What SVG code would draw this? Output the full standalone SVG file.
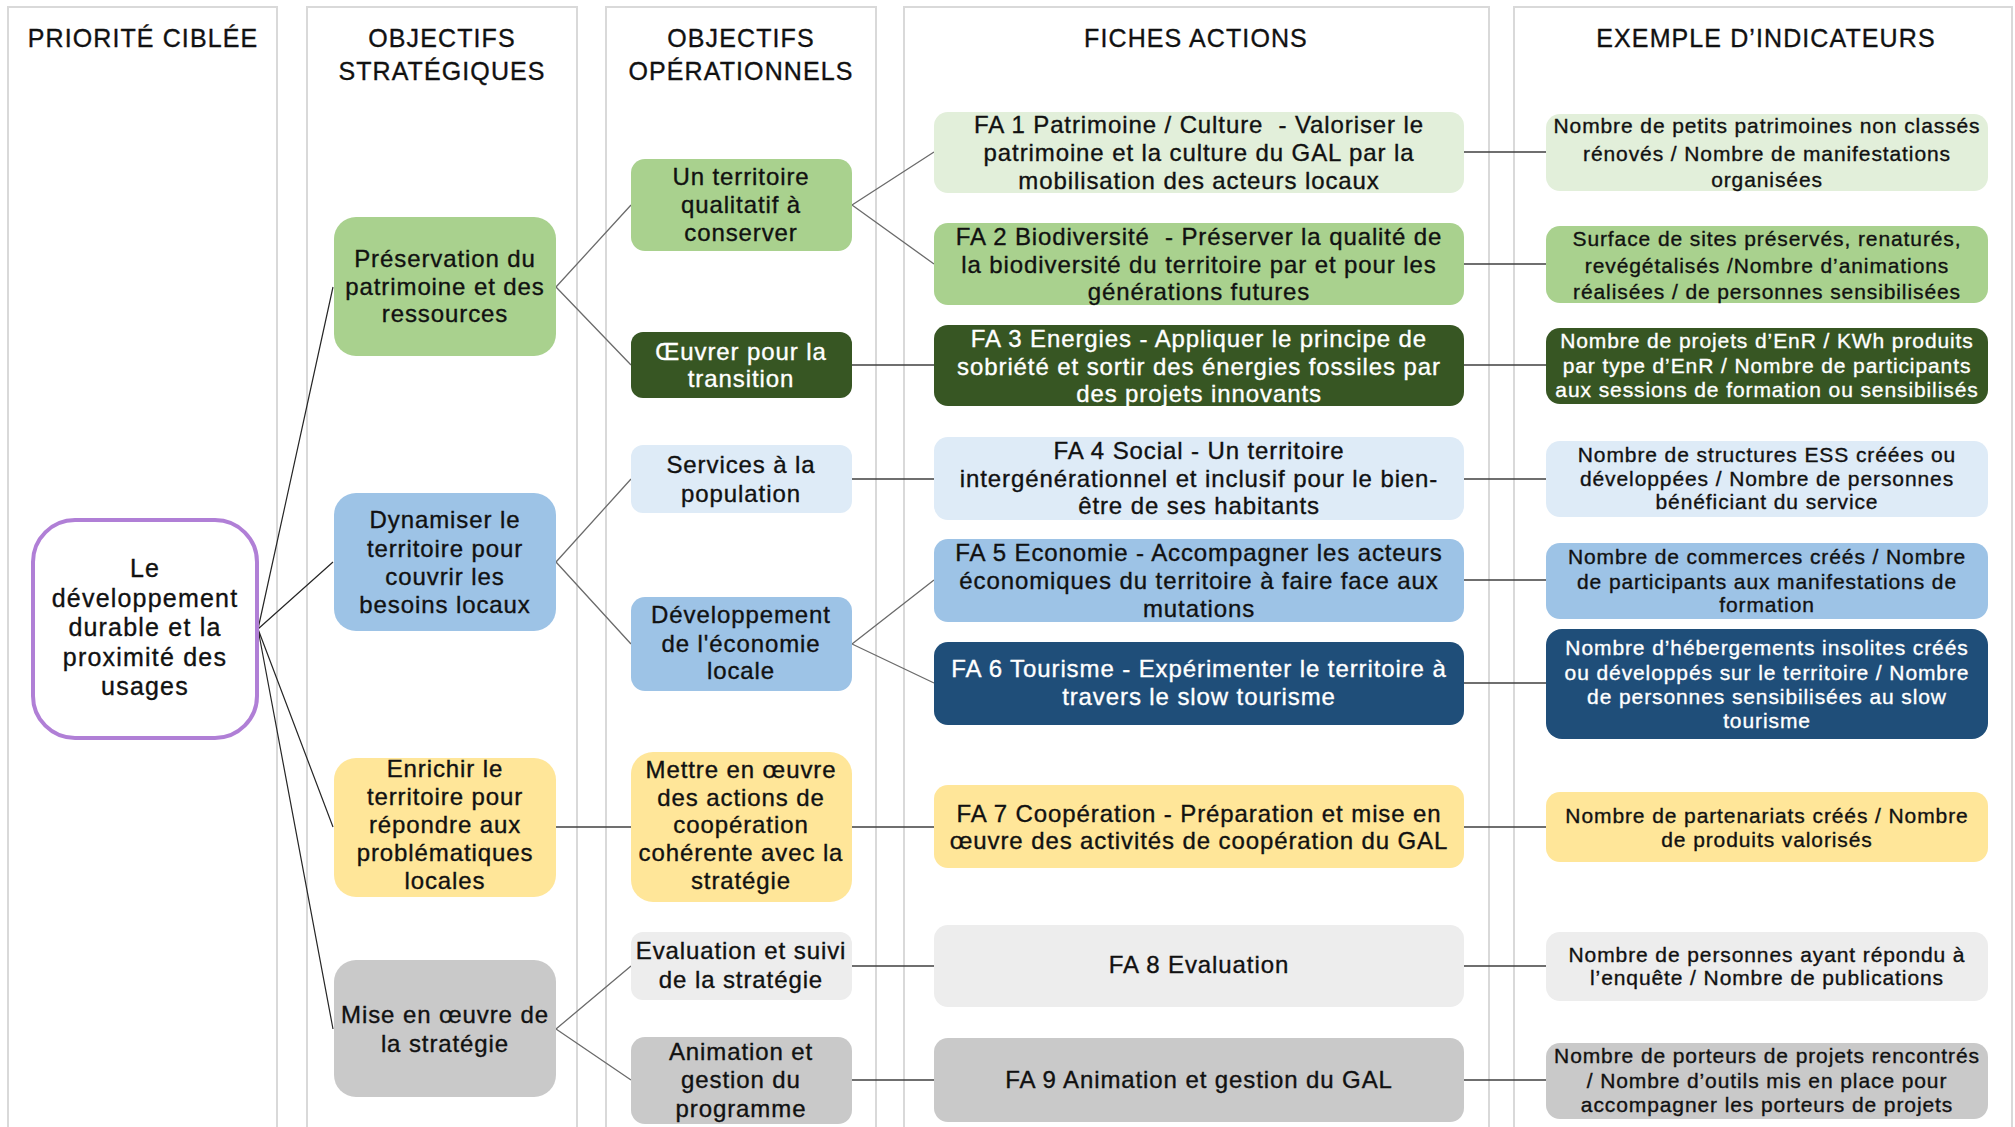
<svg xmlns="http://www.w3.org/2000/svg" width="2015" height="1127" viewBox="0 0 2015 1127">
<style>
text{font-family:"Liberation Sans",Arial,sans-serif;fill:#111;stroke:#111;stroke-width:0.35px;text-anchor:middle;}
.hd{font-size:25px;letter-spacing:1.1px;}
.rt{font-size:25px;letter-spacing:1.2px;}
.st{font-size:24px;letter-spacing:0.9px;}
.fa{font-size:24px;letter-spacing:0.9px;}
.ind{font-size:21px;letter-spacing:0.9px;}
.w{fill:#fff;stroke:#fff;}
.panel{fill:#fff;stroke:#d9d9d9;stroke-width:2;}
.lg{fill:#e2efda;} .mg{fill:#a9d18e;} .dg{fill:#375623;}
.lb{fill:#deebf7;} .mb{fill:#9dc3e6;} .db{fill:#1f4e79;}
.ye{fill:#ffe699;} .gl{fill:#ededed;} .gm{fill:#c9c9c9;}
.c1{stroke:#262626;stroke-width:1.2;fill:none;}
.c2{stroke:#6b6b6b;stroke-width:1.3;fill:none;}
.c3{stroke:#404040;stroke-width:1.6;fill:none;}
</style>
<rect width="2015" height="1127" fill="#fff"/>
<g id="panels">
<rect class="panel" x="8" y="7" width="269" height="1140"/>
<rect class="panel" x="307" y="7" width="270" height="1140"/>
<rect class="panel" x="606" y="7" width="270" height="1140"/>
<rect class="panel" x="904" y="7" width="585" height="1140"/>
<rect class="panel" x="1514" y="7" width="498" height="1140"/>
<text class="hd" x="143" y="47">PRIORITÉ CIBLÉE</text>
<text class="hd" x="442" y="47">OBJECTIFS</text>
<text class="hd" x="442" y="80">STRATÉGIQUES</text>
<text class="hd" x="741" y="47">OBJECTIFS</text>
<text class="hd" x="741" y="80">OPÉRATIONNELS</text>
<text class="hd" x="1196" y="47">FICHES ACTIONS</text>
<text class="hd" x="1766" y="47">EXEMPLE D’INDICATEURS</text>
</g>
<g id="connectors">
<path class="c1" d="M258 629L333 287M258 629L333 562M258 629L333 827M258 629L333 1029"/>
<path class="c2" d="M556 287L631 205M556 287L631 365M556 562L631 479M556 562L631 644M556 1029L631 966M556 1029L631 1080"/>
<path class="c3" d="M556 827H631"/>
<path class="c2" d="M852 205L934 152M852 205L934 264M852 644L934 580M852 644L934 683"/>
<path class="c3" d="M852 365H934M852 479H934M852 827H934M852 966H934M852 1080H934"/>
<path class="c3" d="M1464 152H1546M1464 264H1546M1464 365H1546M1464 479H1546M1464 580H1546M1464 683H1546M1464 827H1546M1464 966H1546M1464 1080H1546"/>
</g>
<g id="root">
<rect x="33" y="520" width="224" height="218" rx="42" fill="#fff" stroke="#b07fd6" stroke-width="4"/>
<text class="rt" x="145" y="577">Le</text>
<text class="rt" x="145" y="607">développement</text>
<text class="rt" x="145" y="636">durable et la</text>
<text class="rt" x="145" y="666">proximité des</text>
<text class="rt" x="145" y="695">usages</text>
</g>
<g id="os1">
<rect class="mg" x="334" y="217" width="222" height="139" rx="22"/>
<text class="st" x="445" y="267">Préservation du</text>
<text class="st" x="445" y="295">patrimoine et des</text>
<text class="st" x="445" y="322">ressources</text>
</g>
<g id="os2">
<rect class="mb" x="334" y="493" width="222" height="138" rx="22"/>
<text class="st" x="445" y="528">Dynamiser le</text>
<text class="st" x="445" y="557">territoire pour</text>
<text class="st" x="445" y="585">couvrir les</text>
<text class="st" x="445" y="613">besoins locaux</text>
</g>
<g id="os3">
<rect class="ye" x="334" y="758" width="222" height="139" rx="22"/>
<text class="st" x="445" y="777">Enrichir le</text>
<text class="st" x="445" y="805">territoire pour</text>
<text class="st" x="445" y="833">répondre aux</text>
<text class="st" x="445" y="861">problématiques</text>
<text class="st" x="445" y="889">locales</text>
</g>
<g id="os4">
<rect class="gm" x="334" y="960" width="222" height="137" rx="22"/>
<text class="st" x="445" y="1023">Mise en œuvre de</text>
<text class="st" x="445" y="1052">la stratégie</text>
</g>
<g id="oo1">
<rect class="mg" x="631" y="159" width="221" height="92" rx="14"/>
<text class="st" x="741" y="185">Un territoire</text>
<text class="st" x="741" y="213">qualitatif à</text>
<text class="st" x="741" y="241">conserver</text>
</g>
<g id="oo2">
<rect class="dg" x="631" y="332" width="221" height="66" rx="12"/>
<text class="st w" x="741" y="360">Œuvrer pour la</text>
<text class="st w" x="741" y="387">transition</text>
</g>
<g id="oo3">
<rect class="lb" x="631" y="445" width="221" height="68" rx="12"/>
<text class="st" x="741" y="473">Services à la</text>
<text class="st" x="741" y="502">population</text>
</g>
<g id="oo4">
<rect class="mb" x="631" y="597" width="221" height="94" rx="14"/>
<text class="st" x="741" y="623">Développement</text>
<text class="st" x="741" y="652">de l'économie</text>
<text class="st" x="741" y="679">locale</text>
</g>
<g id="oo5">
<rect class="ye" x="631" y="752" width="221" height="150" rx="22"/>
<text class="st" x="741" y="778">Mettre en œuvre</text>
<text class="st" x="741" y="806">des actions de</text>
<text class="st" x="741" y="833">coopération</text>
<text class="st" x="741" y="861">cohérente avec la</text>
<text class="st" x="741" y="889">stratégie</text>
</g>
<g id="oo6">
<rect class="gl" x="631" y="932" width="221" height="68" rx="12"/>
<text class="st" x="741" y="959">Evaluation et suivi</text>
<text class="st" x="741" y="988">de la stratégie</text>
</g>
<g id="oo7">
<rect class="gm" x="631" y="1037" width="221" height="87" rx="14"/>
<text class="st" x="741" y="1060">Animation et</text>
<text class="st" x="741" y="1088">gestion du</text>
<text class="st" x="741" y="1117">programme</text>
</g>
<g id="fa1">
<rect class="lg" x="934" y="112" width="530" height="81" rx="14"/>
<text class="fa" x="1199" y="133">FA 1 Patrimoine / Culture &#160;- Valoriser le</text>
<text class="fa" x="1199" y="161">patrimoine et la culture du GAL par la</text>
<text class="fa" x="1199" y="189">mobilisation des acteurs locaux</text>
</g>
<g id="fa2">
<rect class="mg" x="934" y="223" width="530" height="82" rx="14"/>
<text class="fa" x="1199" y="245">FA 2 Biodiversité &#160;- Préserver la qualité de</text>
<text class="fa" x="1199" y="273">la biodiversité du territoire par et pour les</text>
<text class="fa" x="1199" y="300">générations futures</text>
</g>
<g id="fa3">
<rect class="dg" x="934" y="325" width="530" height="81" rx="14"/>
<text class="fa w" x="1199" y="347">FA 3 Energies - Appliquer le principe de</text>
<text class="fa w" x="1199" y="375">sobriété et sortir des énergies fossiles par</text>
<text class="fa w" x="1199" y="402">des projets innovants</text>
</g>
<g id="fa4">
<rect class="lb" x="934" y="437" width="530" height="83" rx="14"/>
<text class="fa" x="1199" y="459">FA 4 Social - Un territoire</text>
<text class="fa" x="1199" y="487">intergénérationnel et inclusif pour le bien-</text>
<text class="fa" x="1199" y="514">être de ses habitants</text>
</g>
<g id="fa5">
<rect class="mb" x="934" y="539" width="530" height="83" rx="14"/>
<text class="fa" x="1199" y="561">FA 5 Economie - Accompagner les acteurs</text>
<text class="fa" x="1199" y="589">économiques du territoire à faire face aux</text>
<text class="fa" x="1199" y="617">mutations</text>
</g>
<g id="fa6">
<rect class="db" x="934" y="642" width="530" height="83" rx="14"/>
<text class="fa w" x="1199" y="677">FA 6 Tourisme - Expérimenter le territoire à</text>
<text class="fa w" x="1199" y="705">travers le slow tourisme</text>
</g>
<g id="fa7">
<rect class="ye" x="934" y="785" width="530" height="83" rx="14"/>
<text class="fa" x="1199" y="822">FA 7 Coopération - Préparation et mise en</text>
<text class="fa" x="1199" y="849">œuvre des activités de coopération du GAL</text>
</g>
<g id="fa8">
<rect class="gl" x="934" y="925" width="530" height="82" rx="14"/>
<text class="fa" x="1199" y="973">FA 8 Evaluation</text>
</g>
<g id="fa9">
<rect class="gm" x="934" y="1038" width="530" height="84" rx="14"/>
<text class="fa" x="1199" y="1088">FA 9 Animation et gestion du GAL</text>
</g>
<g id="ind1">
<rect class="lg" x="1546" y="114" width="442" height="77" rx="14"/>
<text class="ind" x="1767" y="133">Nombre de petits patrimoines non classés</text>
<text class="ind" x="1767" y="161">rénovés / Nombre de manifestations</text>
<text class="ind" x="1767" y="187">organisées</text>
</g>
<g id="ind2">
<rect class="mg" x="1546" y="226" width="442" height="77" rx="14"/>
<text class="ind" x="1767" y="246">Surface de sites préservés, renaturés,</text>
<text class="ind" x="1767" y="273">revégétalisés /Nombre d’animations</text>
<text class="ind" x="1767" y="299">réalisées / de personnes sensibilisées</text>
</g>
<g id="ind3">
<rect class="dg" x="1546" y="328" width="442" height="76" rx="14"/>
<text class="ind w" x="1767" y="348">Nombre de projets d’EnR / KWh produits</text>
<text class="ind w" x="1767" y="373">par type d’EnR / Nombre de participants</text>
<text class="ind w" x="1767" y="397">aux sessions de formation ou sensibilisés</text>
</g>
<g id="ind4">
<rect class="lb" x="1546" y="441" width="442" height="76" rx="14"/>
<text class="ind" x="1767" y="462">Nombre de structures ESS créées ou</text>
<text class="ind" x="1767" y="486">développées / Nombre de personnes</text>
<text class="ind" x="1767" y="509">bénéficiant du service</text>
</g>
<g id="ind5">
<rect class="mb" x="1546" y="543" width="442" height="76" rx="14"/>
<text class="ind" x="1767" y="564">Nombre de commerces créés / Nombre</text>
<text class="ind" x="1767" y="589">de participants aux manifestations de</text>
<text class="ind" x="1767" y="612">formation</text>
</g>
<g id="ind6">
<rect class="db" x="1546" y="629" width="442" height="110" rx="16"/>
<text class="ind w" x="1767" y="655">Nombre d’hébergements insolites créés</text>
<text class="ind w" x="1767" y="680">ou développés sur le territoire / Nombre</text>
<text class="ind w" x="1767" y="704">de personnes sensibilisées au slow</text>
<text class="ind w" x="1767" y="728">tourisme</text>
</g>
<g id="ind7">
<rect class="ye" x="1546" y="792" width="442" height="70" rx="14"/>
<text class="ind" x="1767" y="823">Nombre de partenariats créés / Nombre</text>
<text class="ind" x="1767" y="847">de produits valorisés</text>
</g>
<g id="ind8">
<rect class="gl" x="1546" y="932" width="442" height="69" rx="14"/>
<text class="ind" x="1767" y="962">Nombre de personnes ayant répondu à</text>
<text class="ind" x="1767" y="985">l’enquête / Nombre de publications</text>
</g>
<g id="ind9">
<rect class="gm" x="1546" y="1043" width="442" height="76" rx="14"/>
<text class="ind" x="1767" y="1063">Nombre de porteurs de projets rencontrés</text>
<text class="ind" x="1767" y="1088">/ Nombre d’outils mis en place pour</text>
<text class="ind" x="1767" y="1112">accompagner les porteurs de projets</text>
</g>
</svg>
